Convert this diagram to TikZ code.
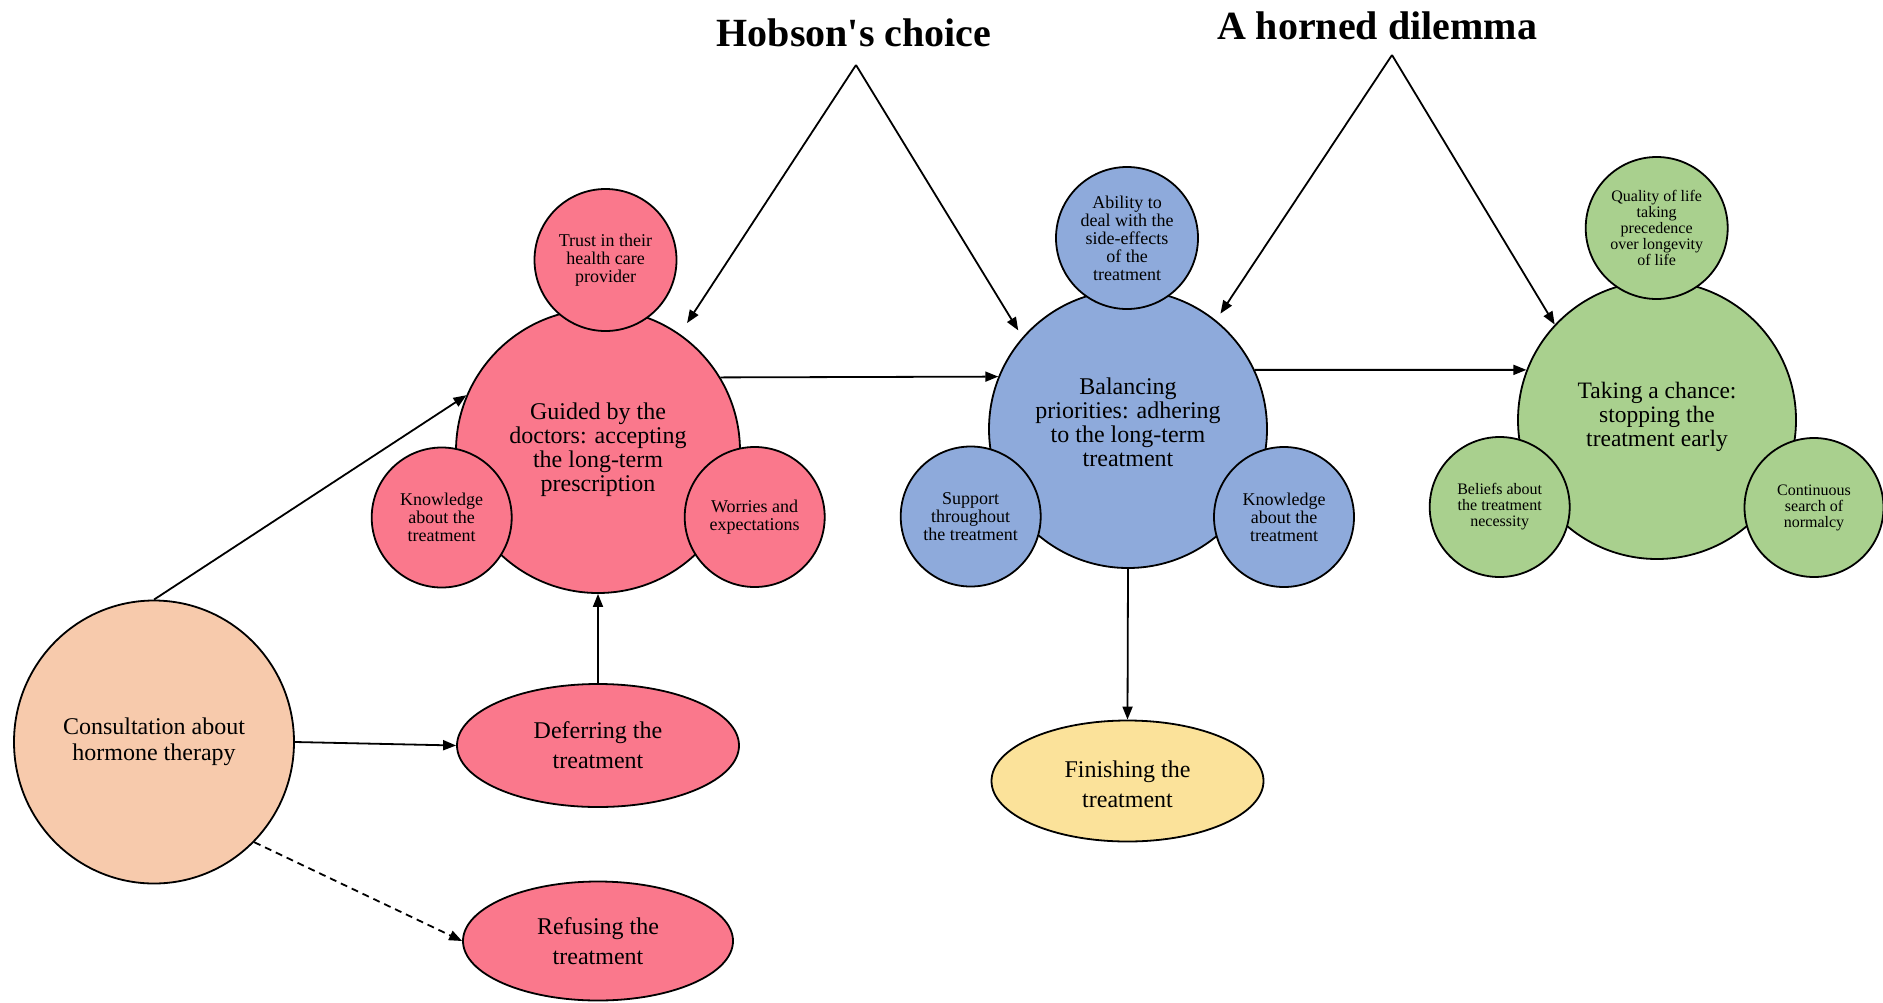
\documentclass[tikz,border=0pt]{standalone}
\usepackage{fontspec}
\setmainfont{Liberation Serif}
\usetikzlibrary{arrows.meta,shapes.geometric}
\definecolor{rosefill}{HTML}{FA788C}
\definecolor{bluefill}{HTML}{8EAADB}
\definecolor{greenfill}{HTML}{A9D08E}
\definecolor{peachfill}{HTML}{F7CAAC}
\definecolor{yellowfill}{HTML}{FBE29A}
\begin{document}
\begin{tikzpicture}[x=1pt,y=-1pt,
  shapebase/.style={draw=black, line width=1.8pt, inner sep=0pt, align=center},
  bigcirc/.style={shapebase, circle, minimum size=278pt, font=\fontsize{24}{24}\selectfont},
  smallcirc/.style={shapebase, circle, minimum size=140pt, font=\fontsize{18}{18}\selectfont},
  tinycirc/.style={shapebase, circle, minimum size=140pt, font=\fontsize{16}{16}\selectfont},
  oval/.style={shapebase, ellipse, font=\fontsize{24}{30}\selectfont},
  title/.style={inner sep=0pt, font=\fontsize{40}{40}\selectfont\bfseries},
  conn/.style={line width=1.8pt, -{Triangle[length=13pt,width=10pt]}},
]
\useasboundingbox (0,0) rectangle (1883,1002);

% titles and the apexes of their pointer pairs
\node[title, anchor=base] (hobson) at (854,46.7) {Hobson\textquotesingle s choice};
\node[title, anchor=base] (horned) at (1377,39.3) {A horned dilemma};
\coordinate (hobapex) at (856,65);
\coordinate (horapex) at (1392,55);

% starting point
\node[oval, fill=peachfill, minimum width=280pt, minimum height=283pt,
      font=\fontsize{24}{26}\selectfont] (consult) at (154,742)
      {Consultation about\\hormone therapy};

% accepting the prescription
\node[bigcirc, fill=rosefill, minimum size=284pt, text depth=8pt] (accept) at (598,451)
      {Guided by the\\doctors: accepting\\the long-term\\prescription};
\node[smallcirc, fill=rosefill, minimum size=142pt] (trust) at (605.5,260)
      {Trust in their\\health care\\provider};
\node[smallcirc, fill=rosefill] (knowred) at (441.7,517.5)
      {Knowledge\\about the\\treatment};
\node[smallcirc, fill=rosefill] (worries) at (754.7,517)
      {Worries and\\expectations};

\node[oval, fill=rosefill, minimum width=282pt, minimum height=123pt] (defer)
      at (598,745.5) {Deferring the\\treatment};
\node[oval, fill=rosefill, minimum width=270pt, minimum height=119pt] (refuse)
      at (598,941) {Refusing the\\treatment};

% adhering to the treatment
\node[bigcirc, fill=bluefill, text depth=14pt] (adhere) at (1128,429)
      {Balancing\\priorities: adhering\\to the long-term\\treatment};
\node[smallcirc, fill=bluefill, minimum size=142pt] (ability) at (1127,238)
      {Ability to\\deal with the\\side-effects\\of the\\treatment};
\node[smallcirc, fill=bluefill] (support) at (970.7,516.5)
      {Support\\throughout\\the treatment};
\node[smallcirc, fill=bluefill] (knowblue) at (1284,517)
      {Knowledge\\about the\\treatment};

\node[oval, fill=yellowfill, minimum width=272pt, minimum height=121pt,
      text height=53.5pt] (finish)
      at (1127.5,781) {Finishing the\\treatment};

% stopping early
\node[bigcirc, fill=greenfill, font=\fontsize{23.5}{24}\selectfont, text depth=11pt]
      (stop) at (1657,420)
      {Taking a chance:\\stopping the\\treatment early};
\node[tinycirc, fill=greenfill, minimum size=142pt] (quality) at (1656.7,228)
      {Quality of life\\taking\\precedence\\over longevity\\of life};
\node[tinycirc, fill=greenfill] (beliefs) at (1499.7,507)
      {Beliefs about\\the treatment\\necessity};
\node[tinycirc, fill=greenfill, minimum size=139pt] (normal) at (1814,507.5)
      {Continuous\\search of\\normalcy};

% connectors
\draw[conn] (consult.north) -- (accept.157);
\draw[conn] (consult.east) -- (defer.west);
\draw[conn, dash pattern=on 7pt off 5pt] (consult.-45) -- (refuse.west);
\draw[conn] (defer.north) -- (accept.south);
\draw[conn] (accept.31) -- (adhere.158);
\draw[conn] (adhere.25) -- (stop.159);
\draw[conn] (adhere.south) -- (finish.north);

\draw[conn, shorten >=13pt] (hobapex) -- (accept.55);
\draw[conn, shorten >=8pt] (hobapex) -- (adhere.139);
\draw[conn, shorten >=8pt] (horapex) -- (adhere.51);
\draw[conn] (horapex) -- (stop.137);
\end{tikzpicture}
\end{document}
